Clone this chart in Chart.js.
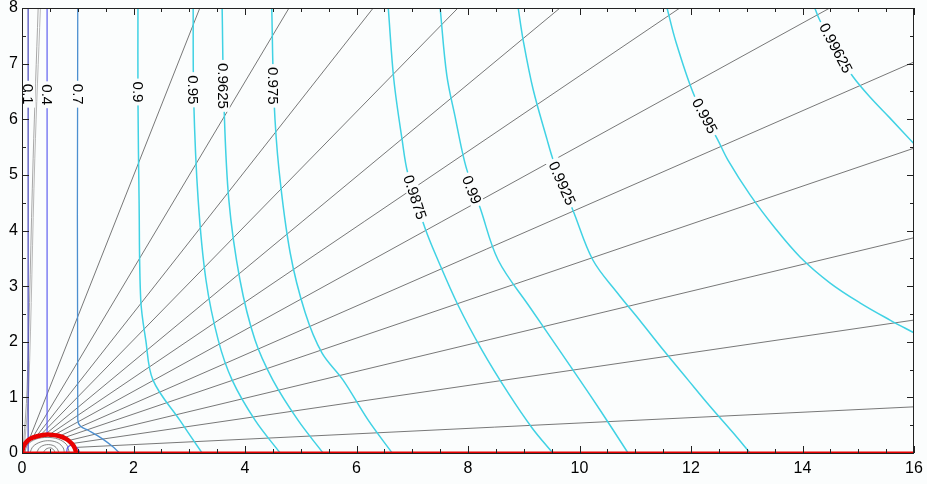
<!DOCTYPE html>
<html lang="en">
<head>
<meta charset="UTF-8">
<title>Contours</title>
<script src="https://cdn.jsdelivr.net/npm/chart.js"></script>
<style>
    html, body { margin: 0; padding: 0; background: #fbfdfd; }
    #wrap { width: 927px; height: 484px; }
</style>
</head>
<body>
<div id="wrap"><canvas id="plot" width="927" height="484"></canvas></div>
<script>
// axes
var xMin = 0, xMax = 16, xStep = 2;
var yMin = 0, yMax = 8, yStep = 1;
var minorStep = 0.5;

// contour lines, [x, y]
var c01 = [[0.11, 8], [0.11, 0]];
var c04 = [[0.45, 8], [0.45, 0.32]];
var c07 = [[1.0, 8], [1.0, 0.6], [1.05, 0.48], [1.2, 0.4], [1.45, 0.25], [1.62, 0.12], [1.75, 0]];
var c090 = [[2.08, 8], [2.08, 6.35], [2.10, 4.55], [2.13, 2.75], [2.22, 2.03], [2.35, 1.31], [2.83, 0.59], [3.23, 0]];
var c095 = [[3.07, 8], [3.08, 6.35], [3.16, 4.55], [3.30, 3.11], [3.52, 2.03], [3.77, 1.31], [4.18, 0.59], [4.63, 0]];
var c09625 = [[3.59, 8], [3.62, 6.35], [3.71, 4.55], [3.91, 3.11], [4.18, 2.03], [4.50, 1.31], [4.95, 0.59], [5.40, 0]];
var c0975 = [[4.48, 8], [4.52, 6.35], [4.61, 5.09], [4.81, 3.60], [5.08, 2.52], [5.38, 1.80], [5.76, 1.31], [6.21, 0.59], [6.64, 0]];
var c09875 = [[6.57, 8], [6.67, 6.71], [6.82, 5.62], [6.92, 5.03], [7.23, 4.04], [7.46, 3.47], [7.82, 2.66], [8.25, 1.85], [8.72, 1.08], [9.15, 0.45], [9.52, 0]];
var c099 = [[7.50, 8], [7.62, 6.79], [7.78, 5.99], [7.89, 5.45], [7.98, 5.09], [8.22, 4.40], [8.54, 3.47], [9.11, 2.62], [9.70, 1.76], [10.19, 1.04], [10.58, 0.45], [10.87, 0]];
var c09925 = [[8.90, 8], [8.99, 7.42], [9.17, 6.53], [9.42, 5.63], [9.51, 5.32], [9.65, 4.91], [9.88, 4.37], [10.24, 3.47], [10.67, 2.89], [11.10, 2.36], [11.53, 1.82], [11.95, 1.31], [12.34, 0.84], [12.74, 0.38], [13.06, 0]];
var c0995 = [[11.57, 8], [11.73, 7.39], [12.07, 6.40], [12.48, 5.63], [12.66, 5.27], [13.06, 4.64], [13.51, 4.04], [13.96, 3.52], [14.49, 3.06], [15.03, 2.70], [15.57, 2.39], [16, 2.16]];
var c099625 = [[14.22, 8], [14.31, 7.78], [14.60, 7.24], [14.91, 6.76], [15.21, 6.40], [15.57, 6.02], [16, 5.56]];
var blueInner = [[0.80, 0], [0.82, 0.1], [0.9, 0.14], [1.0, 0.08], [1.04, 0]];

// contour labels
var labelText = ['0.1', '0.4', '0.7', '0.9', '0.95', '0.9625', '0.975', '0.9875', '0.99', '0.9925', '0.995', '0.99625'];
var labelX = [0.11, 0.45, 1.0, 2.08, 3.07, 3.60, 4.51, 7.05, 8.07, 9.69, 12.25, 14.60];
var labelY = [6.45, 6.44, 6.45, 6.49, 6.53, 6.60, 6.60, 4.60, 4.73, 4.85, 6.06, 7.28];
var labelAngle = [90, 90, 90, 90, 90, 90, 90, 72, 68, 66, 62, 62];

// stream lines: start near the bubble, end on the frame [x0, y0, x1, y1]
var rays = [
    [0.95, 0.10, 16, 0.83],
    [0.90, 0.17, 16, 2.39],
    [0.82, 0.22, 16, 3.87],
    [0.74, 0.27, 16, 5.48],
    [0.66, 0.30, 16, 7.03],
    [0.57, 0.32, 14.49, 8],
    [0.49, 0.33, 11.80, 8],
    [0.40, 0.32, 9.65, 8],
    [0.32, 0.31, 7.82, 8],
    [0.25, 0.29, 6.30, 8],
    [0.18, 0.26, 4.79, 8],
    [0.12, 0.22, 3.19, 8]
];
var steep1 = [[0.29, 8], [0.20, 5.3], [0.09, 1.13], [0.03, 0.2]];
var steep2 = [[0.33, 8], [0.23, 5.3], [0.12, 1.13], [0.05, 0.2]];
var inner1 = [[0.05, 0], [0.1, 0.15], [0.25, 0.25], [0.45, 0.28], [0.65, 0.25], [0.8, 0.15], [0.85, 0]];
var inner2 = [[0.14, 0], [0.2, 0.12], [0.34, 0.2], [0.5, 0.22], [0.65, 0.18], [0.74, 0.09], [0.76, 0]];
var inner3 = [[0.26, 0], [0.32, 0.1], [0.44, 0.15], [0.57, 0.13], [0.64, 0.06], [0.66, 0]];
var inner4 = [[0.38, 0], [0.43, 0.07], [0.52, 0.09], [0.58, 0.04], [0.59, 0]];

// red boundary
var redArc = [[0, 0], [0.03, 0.12], [0.1, 0.22], [0.2, 0.28], [0.35, 0.32], [0.5, 0.33], [0.65, 0.31], [0.8, 0.25], [0.9, 0.16], [0.95, 0.08], [0.97, 0]];
var redAxis = [[0, 0], [16, 0]];

var bgColor = '#fbfdfd';
var fontFamily = '"Liberation Sans", Arial, Helvetica, sans-serif';

function line(points, color, width, order, tension) {
    return {
        data: points.map(function (p) { return { x: p[0], y: p[1] }; }),
        showLine: true,
        pointRadius: 0,
        borderColor: color,
        borderWidth: width,
        tension: tension === undefined ? 0.35 : tension,
        fill: false,
        order: order
    };
}

var datasets = [];
datasets.push(line(redArc, '#e80000', 4.5, 0));
datasets.push(line(redAxis, '#e80000', 3, 0, 0));

datasets.push(line(c01, '#4646b8', 1.2, 1, 0));
datasets.push(line(c04, '#6060f0', 1.2, 1, 0));
datasets.push(line(c07, '#4c8fd0', 1.3, 1));
datasets.push(line(blueInner, '#5a5af0', 1.2, 1));
[c090, c095, c09625, c0975, c09875, c099, c09925, c0995, c099625].forEach(function (c) {
    datasets.push(line(c, '#40d2e4', 1.5, 1));
});

rays.forEach(function (r) {
    datasets.push(line([[r[0], r[1]], [r[2], r[3]]], '#555', 0.8, 2, 0));
});
datasets.push(line(steep1, '#a8a8a8', 1, 2));
datasets.push(line(steep2, '#b8b8b8', 1, 2));
[inner1, inner2, inner3, inner4].forEach(function (c) {
    datasets.push(line(c, '#666', 0.8, 2));
});

var framePlugin = {
    id: 'frame',
    beforeDraw: function (chart) {
        var ctx = chart.ctx;
        ctx.save();
        ctx.fillStyle = bgColor;
        ctx.fillRect(0, 0, chart.width, chart.height);
        ctx.restore();
    },
    afterDatasetsDraw: function (chart) {
        var ctx = chart.ctx, xs = chart.scales.x, ys = chart.scales.y;
        ctx.save();
        ctx.font = '15px ' + fontFamily;
        ctx.textAlign = 'center';
        ctx.textBaseline = 'middle';
        for (var i = 0; i < labelText.length; i++) {
            var px = xs.getPixelForValue(labelX[i]);
            var py = ys.getPixelForValue(labelY[i]);
            ctx.save();
            ctx.translate(px, py);
            ctx.rotate(labelAngle[i] * Math.PI / 180);
            var w = ctx.measureText(labelText[i]).width;
            ctx.fillStyle = bgColor;
            ctx.fillRect(-w / 2 - 3, -7, w + 6, 14);
            ctx.fillStyle = '#000';
            ctx.fillText(labelText[i], 0, 1);
            ctx.restore();
        }
        ctx.restore();
    },
    afterDraw: function (chart) {
        var ctx = chart.ctx, a = chart.chartArea, xs = chart.scales.x, ys = chart.scales.y;
        ctx.save();
        ctx.strokeStyle = '#222';
        ctx.lineWidth = 1;
        ctx.beginPath();
        var v, p, len;
        for (v = xMin; v <= xMax + 1e-9; v += minorStep) {
            p = Math.round(xs.getPixelForValue(v)) + 0.5;
            len = (Math.abs(v % xStep) < 1e-9) ? 7 : 4;
            ctx.moveTo(p, a.bottom); ctx.lineTo(p, a.bottom - len);
            ctx.moveTo(p, a.top); ctx.lineTo(p, a.top + len);
        }
        for (v = yMin; v <= yMax + 1e-9; v += minorStep) {
            p = Math.round(ys.getPixelForValue(v)) + 0.5;
            len = (Math.abs(v % yStep) < 1e-9) ? 7 : 4;
            ctx.moveTo(a.left, p); ctx.lineTo(a.left + len, p);
            ctx.moveTo(a.right, p); ctx.lineTo(a.right - len, p);
        }
        ctx.stroke();
        ctx.strokeRect(Math.round(a.left) + 0.5, Math.round(a.top) + 0.5, Math.round(a.right - a.left) - 1, Math.round(a.bottom - a.top));
        ctx.restore();
    }
};

new Chart(document.getElementById('plot').getContext('2d'), {
    type: 'scatter',
    data: { datasets: datasets },
    options: {
        responsive: false,
        animation: false,
        devicePixelRatio: 1,
        layout: { padding: { top: 8, right: 13, left: 0, bottom: 0 } },
        plugins: { legend: { display: false }, tooltip: { enabled: false } },
        scales: {
            x: {
                type: 'linear', min: xMin, max: xMax,
                ticks: { stepSize: xStep, color: '#000', font: { family: fontFamily, size: 16 }, padding: 6, maxRotation: 0 },
                grid: { display: false, drawTicks: false },
                border: { display: false },
                afterFit: function (s) { s.height = 31; s.paddingLeft = 0; s.paddingRight = 0; }
            },
            y: {
                type: 'linear', min: yMin, max: yMax,
                ticks: { stepSize: yStep, color: '#000', font: { family: fontFamily, size: 16 }, padding: 4 },
                grid: { display: false, drawTicks: false },
                border: { display: false },
                afterFit: function (s) { s.width = 22; s.paddingTop = 0; s.paddingBottom = 0; }
            }
        }
    },
    plugins: [framePlugin]
});
</script>
</body>
</html>
